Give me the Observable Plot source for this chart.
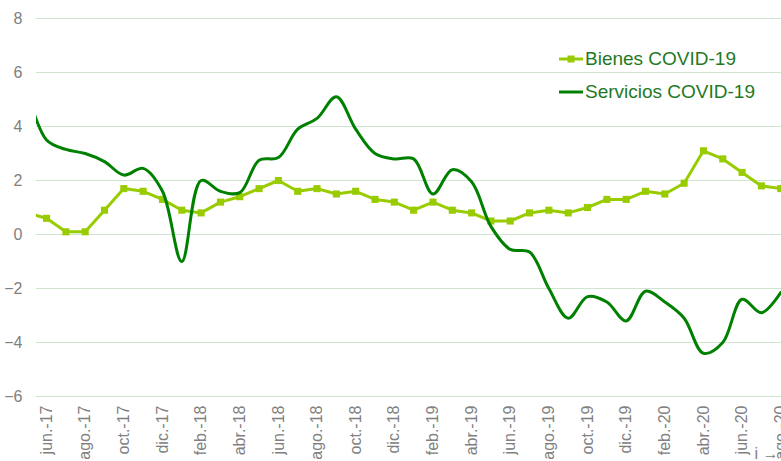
<!DOCTYPE html>
<html><head><meta charset="utf-8">
<script src="https://cdn.jsdelivr.net/npm/d3@7"></script>
<script src="https://cdn.jsdelivr.net/npm/@observablehq/plot@0.6"></script>
<style>
body{margin:0;background:#fff;}
#wrap{position:relative;width:781px;height:461px;overflow:hidden;font-family:"Liberation Sans",Arial,sans-serif;}
#legend{position:absolute;left:559px;top:42px;color:#1f7a1f;font-size:19px;line-height:33px;}
#legend div{display:flex;align-items:center;white-space:nowrap;}
#legend svg{margin-right:2px;}
</style></head>
<body>
<div id="wrap">
<div id="chart"></div>
<div id="legend">
  <div><svg width="24" height="12"><line x1="0" y1="6" x2="24" y2="6" stroke="#99cc00" stroke-width="3"/><rect x="8.5" y="2.5" width="7" height="7" fill="#99cc00"/></svg>Bienes COVID-19</div>
  <div><svg width="24" height="12"><line x1="0" y1="6" x2="24" y2="6" stroke="#008000" stroke-width="3"/></svg>Servicios COVID-19</div>
</div>
</div>
<script>
const months = ["may.-17","jun.-17","jul.-17","ago.-17","sep.-17","oct.-17","nov.-17","dic.-17",
  "ene.-18","feb.-18","mar.-18","abr.-18","may.-18","jun.-18","jul.-18","ago.-18","sep.-18","oct.-18","nov.-18","dic.-18",
  "ene.-19","feb.-19","mar.-19","abr.-19","may.-19","jun.-19","jul.-19","ago.-19","sep.-19","oct.-19","nov.-19","dic.-19",
  "ene.-20","feb.-20","mar.-20","abr.-20","may.-20","jun.-20","jul.-20","ago.-20"];
const bienes = [0.8,0.6,0.1,0.1,0.9,1.7,1.6,1.3,
  0.9,0.8,1.2,1.4,1.7,2.0,1.6,1.7,1.5,1.6,1.3,1.2,
  0.9,1.2,0.9,0.8,0.5,0.5,0.8,0.9,0.8,1.0,1.3,1.3,
  1.6,1.5,1.9,3.1,2.8,2.3,1.8,1.7];
const servicios = [5.3,3.5,3.15,3.0,2.7,2.2,2.45,1.6,
  -1.0,2.0,1.6,1.55,2.75,2.85,3.9,4.3,5.1,3.9,3.0,2.8,
  2.8,1.5,2.4,1.95,0.3,-0.55,-0.65,-2.0,-3.1,-2.3,-2.5,-3.2,
  -2.1,-2.5,-3.1,-4.4,-4.0,-2.4,-2.9,-2.15];
const yTicks = [-6,-4,-2,0,2,4,6,8];
const xTickIdx = months.map((m,i)=>i).filter(i=>i%2===1);

const data = months.map((m,i)=>({i, m, b: bienes[i], s: servicios[i]}));

const chart = Plot.plot({
  width:781, height:461, marginLeft:36, marginRight:0, marginTop:18, marginBottom:65,
  style:{fontFamily:'"Liberation Sans",Arial,sans-serif', fontSize:"16px", color:"#808080", background:"white", overflow:"visible"},
  x:{type:"linear", domain:[0.48,39.04], axis:null},
  y:{domain:[-6,8], axis:null},
  marks:[
    Plot.gridY(yTicks,{stroke:"#cfe5cf", strokeOpacity:1, strokeWidth:1}),
    Plot.axisY(yTicks,{tickSize:0, tickPadding:14, fill:"#808080", fontSize:16}),
    Plot.axisX(xTickIdx,{tickSize:0, tickPadding:9, tickRotate:-90, tickFormat:i=>months[i], fill:"#808080", fontSize:16}),
    Plot.line(data,{x:"i", y:"b", stroke:"#99cc00", strokeWidth:3, clip:"frame"}),
    Plot.dot(data,{x:"i", y:"b", symbol:"square", r:4, fill:"#99cc00", clip:"frame"}),
    Plot.line(data,{x:"i", y:"s", curve:"catmull-rom", stroke:"#008000", strokeWidth:3, clip:"frame"})
  ]
});
document.getElementById("chart").appendChild(chart);
</script>
</body></html>
